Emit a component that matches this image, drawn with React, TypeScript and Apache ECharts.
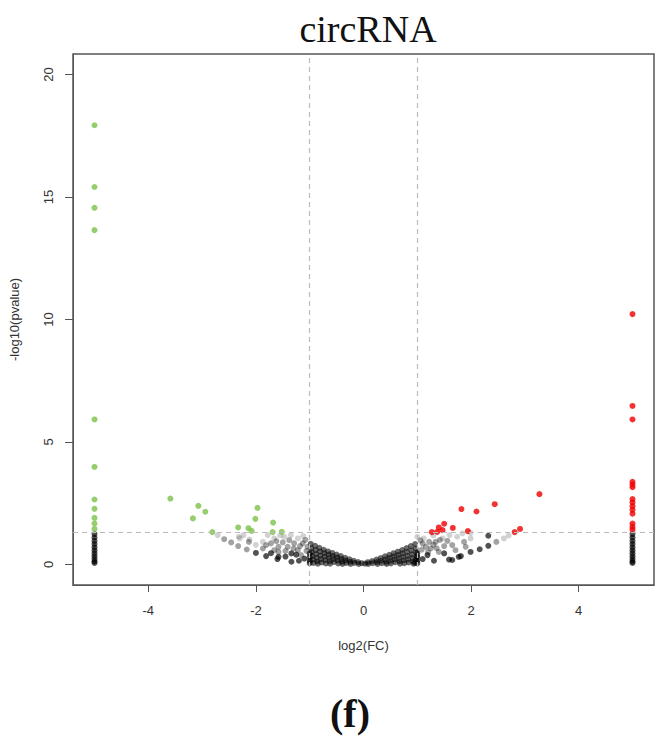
import React, { useEffect, useRef } from "react";
import * as echarts from "echarts";

// Significant down-regulated (green)
const downSig: number[][] = [
  [-5, 17.93], [-5, 15.41], [-5, 14.56], [-5, 13.65], [-5, 5.92], [-5, 3.98],
  [-5, 2.65], [-5, 2.27], [-5, 1.9], [-5, 1.67], [-5, 1.45],
  [-3.59, 2.69], [-3.17, 1.88], [-3.07, 2.39], [-2.94, 2.15], [-2.81, 1.32],
  [-2.33, 1.51], [-2.14, 1.48], [-2.08, 1.37], [-2.01, 1.86], [-1.97, 2.31],
  [-1.68, 1.71], [-1.69, 1.32], [-1.52, 1.33],
];

// Significant up-regulated (red)
const upSig: number[][] = [
  [5, 10.22], [5, 6.47], [5, 5.92], [5, 3.37], [5, 3.26], [5, 3.15], [5, 2.67],
  [5, 2.53], [5, 2.38], [5, 2.23], [5, 2.07], [5, 1.67], [5, 1.53], [5, 1.42],
  [1.27, 1.32], [1.37, 1.33], [1.4, 1.51], [1.47, 1.4], [1.5, 1.66], [1.66, 1.49],
  [1.82, 2.26], [1.94, 1.36], [2.1, 2.16], [2.44, 2.46], [2.81, 1.32],
  [2.91, 1.45], [3.27, 2.87],
];

// Not significant, at the extremes (columns at ±5)
const edgeColumns: number[][] = [
  [-5, 1.24], [-5, 1.1], [-5, 0.96], [-5, 0.83], [-5, 0.7], [-5, 0.57],
  [-5, 0.45], [-5, 0.33], [-5, 0.22], [-5, 0.12], [-5, 0.06],
  [5, 1.24], [5, 1.1], [5, 0.96], [5, 0.83], [5, 0.7], [5, 0.57],
  [5, 0.45], [5, 0.33], [5, 0.22], [5, 0.12], [5, 0.06],
];

// Not significant, light shade
const nsLight: number[][] = [
  [-2.71, 1.2], [-2.3, 1.06], [-2.23, 1.2], [-2.12, 1.02], [-2.0, 0.8],
  [-1.35, 1.2], [-1.47, 1.13], [-1.22, 1.06], [-1.78, 1.2], [-1.87, 0.92],
  [-2.32, 1.13], [-1.66, 1.06], [-1.55, 1.18], [-1.12, 1.16],
  [1.0, 1.13], [1.47, 1.06], [1.74, 1.13], [1.84, 1.27], [1.99, 1.06],
  [1.99, 1.29], [2.61, 1.06], [2.7, 1.18], [1.12, 1.06], [1.6, 1.2], [1.3, 1.18],
];

// Not significant, mid shade
const nsMid: number[][] = [
  [-2.59, 1.03], [-2.46, 0.9], [-2.33, 0.75], [-2.17, 0.61], [-1.87, 0.65],
  [-1.72, 0.86], [-1.66, 0.58], [-1.58, 0.72], [-1.58, 0.51], [-1.38, 0.99],
  [-1.29, 0.86], [-1.41, 0.72], [-1.22, 0.58], [-1.13, 0.86], [-1.04, 0.72],
  [-1.16, 0.38], [-2.13, 0.92], [-1.81, 0.79], [-1.5, 0.9], [-1.3, 0.65],
  [-1.08, 1.0], [-1.62, 0.95], [-1.18, 0.75], [-1.45, 0.55], [-1.06, 0.55],
  [1.22, 0.92], [1.16, 0.72], [1.25, 0.65], [1.34, 0.92], [1.56, 0.96],
  [1.65, 0.79], [1.71, 0.58], [1.87, 0.92], [1.9, 0.72], [2.47, 0.92],
  [1.4, 0.51], [1.5, 0.75], [1.1, 0.85], [1.3, 0.8], [1.42, 1.0], [1.06, 0.98],
  [1.08, 0.6], [1.2, 0.5], [1.36, 0.66],
];

// Not significant, dark shade
const nsDark: number[][] = [
  [-2.0, 0.47], [-1.81, 0.34], [-1.6, 0.22], [-1.34, 0.11], [-1.58, 0.31],
  [-1.34, 0.45], [-1.1, 0.24], [-1.0, 0.45], [-1.0, 0.3], [-1.0, 0.15],
  [-1.0, 0.05], [-1.45, 0.32], [-1.2, 0.15], [-1.72, 0.46], [-1.25, 0.4],
  [1.99, 0.51], [1.81, 0.34], [1.59, 0.2], [1.31, 0.15], [2.16, 0.62],
  [2.32, 0.76], [2.32, 1.17], [1.5, 0.45], [1.19, 0.38], [1.0, 0.45],
  [1.0, 0.3], [1.0, 0.15], [1.0, 0.05], [1.77, 0.31], [1.65, 0.18], [1.1, 0.22],
];

// Dense central band (|log2FC| < 1)
const centralBand: number[][] = [
  [-0.98, 0.84], [-0.97, 0.66], [-0.96, 0.5], [-0.95, 0.34], [-0.94, 0.2], [-0.93, 0.06],
  [-0.9, 0.76], [-0.89, 0.58], [-0.88, 0.42], [-0.87, 0.27], [-0.86, 0.13], [-0.85, 0.03],
  [-0.82, 0.68], [-0.81, 0.52], [-0.8, 0.36], [-0.79, 0.22], [-0.78, 0.08],
  [-0.74, 0.6], [-0.73, 0.46], [-0.72, 0.32], [-0.71, 0.18], [-0.7, 0.04],
  [-0.66, 0.53], [-0.65, 0.4], [-0.64, 0.27], [-0.63, 0.14], [-0.62, 0.03],
  [-0.58, 0.47], [-0.57, 0.34], [-0.56, 0.22], [-0.55, 0.1],
  [-0.5, 0.4], [-0.49, 0.28], [-0.48, 0.16], [-0.47, 0.04],
  [-0.42, 0.34], [-0.41, 0.22], [-0.4, 0.11], [-0.39, 0.02],
  [-0.34, 0.27], [-0.33, 0.16], [-0.32, 0.06],
  [-0.26, 0.21], [-0.25, 0.11], [-0.24, 0.02],
  [-0.18, 0.15], [-0.17, 0.06],
  [-0.1, 0.1], [-0.09, 0.02],
  [-0.03, 0.05], [0.03, 0.03],
  [0.08, 0.09], [0.09, 0.02],
  [0.16, 0.14], [0.17, 0.05],
  [0.24, 0.2], [0.25, 0.1], [0.26, 0.02],
  [0.32, 0.26], [0.33, 0.15], [0.34, 0.05],
  [0.4, 0.33], [0.41, 0.21], [0.42, 0.1], [0.43, 0.02],
  [0.48, 0.39], [0.49, 0.27], [0.5, 0.15], [0.51, 0.04],
  [0.56, 0.46], [0.57, 0.33], [0.58, 0.21], [0.59, 0.09],
  [0.64, 0.52], [0.65, 0.39], [0.66, 0.26], [0.67, 0.13], [0.68, 0.03],
  [0.72, 0.59], [0.73, 0.45], [0.74, 0.31], [0.75, 0.17], [0.76, 0.05],
  [0.8, 0.67], [0.81, 0.51], [0.82, 0.35], [0.83, 0.21], [0.84, 0.08],
  [0.88, 0.75], [0.89, 0.57], [0.9, 0.41], [0.91, 0.26], [0.92, 0.12], [0.93, 0.03],
  [0.96, 0.83], [0.97, 0.65], [0.98, 0.49], [0.99, 0.33], [0.97, 0.19], [0.96, 0.06],
];

const xTicks = [-4, -2, 0, 2, 4];
const yTicks = [0, 5, 10, 15, 20];
const fcThresholds = [-1, 1];
const pThreshold = 1.3;

export default function App() {
  const ref = useRef<HTMLDivElement>(null);
  useEffect(() => {
    if (!ref.current) return;
    const chart = echarts.init(ref.current, undefined, { renderer: "svg" });
    const scatter = (name: string, data: number[][], color: string, z: number) => ({
      name,
      type: "scatter",
      data,
      symbolSize: 6,
      itemStyle: { color },
      z,
      silent: true,
    });
    chart.setOption({
      animation: false,
      backgroundColor: "#ffffff",
      title: [
        {
          text: "circRNA",
          left: 363,
          top: 5,
          textAlign: "center",
          textStyle: { fontFamily: "Liberation Serif", fontSize: 38, fontWeight: "normal", color: "#111" },
        },
        {
          text: "(f)",
          left: 345,
          top: 688,
          textAlign: "center",
          textStyle: { fontFamily: "Liberation Serif", fontSize: 40, fontWeight: "bold", color: "#111" },
        },
      ],
      grid: { left: 72, right: 8, top: 54, bottom: 155, show: true, borderColor: "#555", borderWidth: 1.5, backgroundColor: "transparent" },
      xAxis: {
        type: "value",
        min: -5.4,
        max: 5.4,
        name: "log2(FC)",
        nameLocation: "middle",
        nameGap: 54,
        nameTextStyle: { fontFamily: "Liberation Sans", fontSize: 13, color: "#333" },
        axisLine: { show: true, onZero: false, lineStyle: { color: "#555", width: 1 } },
        axisTick: { show: true, length: 7, inside: false, customValues: xTicks, lineStyle: { color: "#555" } },
        axisLabel: { customValues: xTicks, margin: 19, fontFamily: "Liberation Sans", fontSize: 13, color: "#333" },
        splitLine: { show: false },
      },
      yAxis: {
        type: "value",
        min: -0.84,
        max: 20.84,
        name: "-log10(pvalue)",
        nameLocation: "middle",
        nameGap: 52,
        nameTextStyle: { fontFamily: "Liberation Sans", fontSize: 13, color: "#333" },
        axisLine: { show: true, onZero: false, lineStyle: { color: "#555", width: 1 } },
        axisTick: { show: true, length: 8, customValues: yTicks, lineStyle: { color: "#555" } },
        axisLabel: { customValues: yTicks, rotate: 90, margin: 18, fontFamily: "Liberation Sans", fontSize: 13, color: "#333" },
        splitLine: { show: false },
      },
      series: [
        {
          name: "thresholds",
          type: "scatter",
          data: [],
          silent: true,
          z: 1,
          markLine: {
            silent: true,
            symbol: "none",
            animation: false,
            label: { show: false },
            lineStyle: { type: [5, 4], color: "#bbbbbb", width: 1.2 },
            data: [
              ...fcThresholds.map((v) => ({ xAxis: v })),
              { yAxis: pThreshold },
            ],
          },
        },
        scatter("band", centralBand, "rgba(0,0,0,0.72)", 2),
        scatter("nsLight", nsLight, "rgba(0,0,0,0.22)", 2),
        scatter("nsMid", nsMid, "rgba(0,0,0,0.45)", 2),
        scatter("nsDark", nsDark, "rgba(0,0,0,0.85)", 3),
        scatter("edge", edgeColumns, "rgba(0,0,0,0.85)", 3),
        scatter("down", downSig, "#7cc24a", 4),
        scatter("up", upSig, "#f00000", 4),
      ],
    });
    return () => chart.dispose();
  }, []);
  return <div ref={ref} style={{ position: "absolute", left: 0, top: 0, width: 662, height: 740 }} />;
}
